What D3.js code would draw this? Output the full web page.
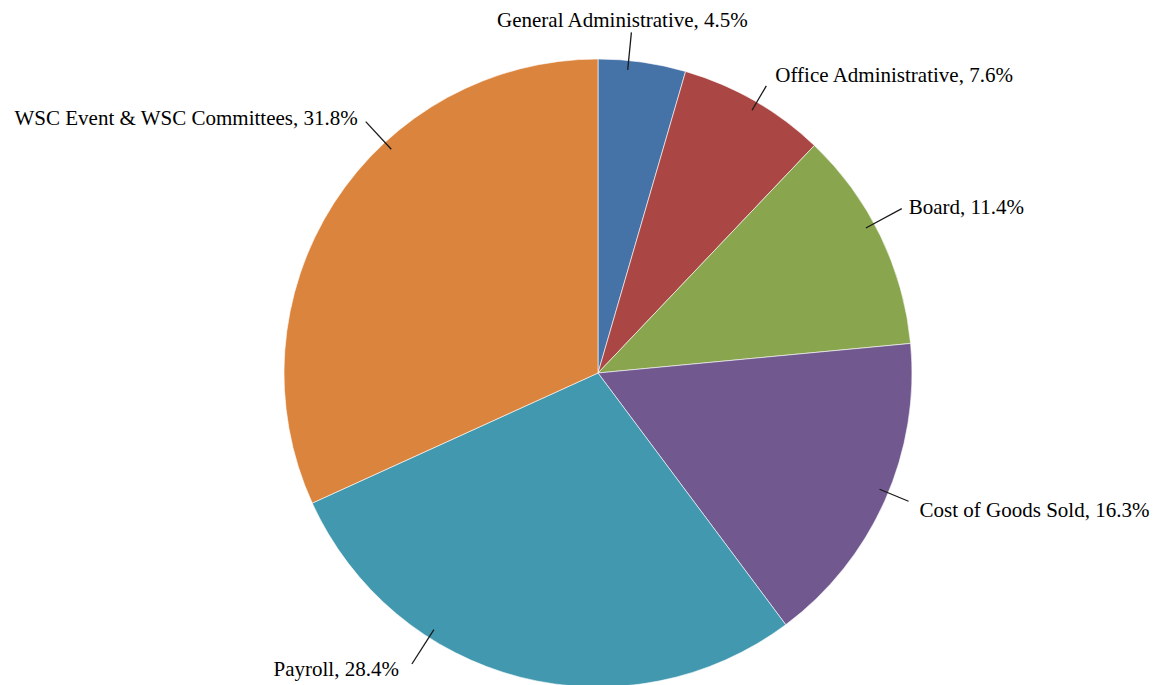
<!DOCTYPE html>
<html>
<head>
<meta charset="utf-8">
<script src="https://cdn.jsdelivr.net/npm/d3@7"></script>
<style>
  body { margin: 0; background: #fff; }
  text { font-family: "Liberation Serif", "Times New Roman", serif; font-size: 21px; fill: #000; }
</style>
</head>
<body>
<svg></svg>
<script>
var categories = ["General Administrative", "Office Administrative", "Board", "Cost of Goods Sold", "Payroll", "WSC Event & WSC Committees"];
var percents = [4.5, 7.6, 11.4, 16.3, 28.4, 31.8];
var colors = ["#4572A7", "#AA4643", "#89A54E", "#71588F", "#4198AF", "#DB843D"];

var width = 1162;
var height = 685;
var cx = 598, cy = 373;
var radius = 314;

// label layout tweaks (leader angle shift in degrees, leader length, text offsets)
var labelShift = [-2.5, 0.5, -2.5, -1.5, 18.2, 14.5];
var labelOuter = [1.09, 1.06, 1.1, 1.07, 1.1, 1.09];
var labelDx = [-9, 9, 7, 11, -13, -8];
var labelDy = [-5, -4, 5, 16, 12, 3];

var data = categories.map((c, i) => ({name: c, value: percents[i]}));

var svg = d3.select("svg")
    .attr("width", width)
    .attr("height", height);

var pie = d3.pie()
    .sort(null)
    .value(d => d.value);

var arc = d3.arc()
    .innerRadius(0)
    .outerRadius(radius);

var arcs = pie(data);

var g = svg.append("g")
    .attr("transform", "translate(" + cx + "," + cy + ")");

g.selectAll("path")
  .data(arcs)
  .enter()
  .append("path")
    .attr("d", arc)
    .attr("fill", (d, i) => colors[i])
    .attr("stroke", "rgba(255,255,255,0.6)")
    .attr("stroke-width", 1);

function pt(angle, r) {
  return [Math.sin(angle) * r, -Math.cos(angle) * r];
}

arcs.forEach(function(d, i) {
  var a = (d.startAngle + d.endAngle) / 2 + labelShift[i] * Math.PI / 180;
  var p1 = pt(a, radius * 0.97);
  var p2 = pt(a, radius * labelOuter[i]);
  g.append("line")
    .attr("x1", p1[0]).attr("y1", p1[1])
    .attr("x2", p2[0]).attr("y2", p2[1])
    .attr("stroke", "#1a1a1a")
    .attr("stroke-width", 1.3);

  var s = Math.sin(a);
  var anchor = Math.abs(s) < 0.2 ? "middle" : (s > 0 ? "start" : "end");
  g.append("text")
    .attr("x", p2[0] + labelDx[i])
    .attr("y", p2[1] + labelDy[i])
    .attr("text-anchor", anchor)
    .text(d.data.name + ", " + d.data.value.toFixed(1) + "%");
});
</script>
</body>
</html>
